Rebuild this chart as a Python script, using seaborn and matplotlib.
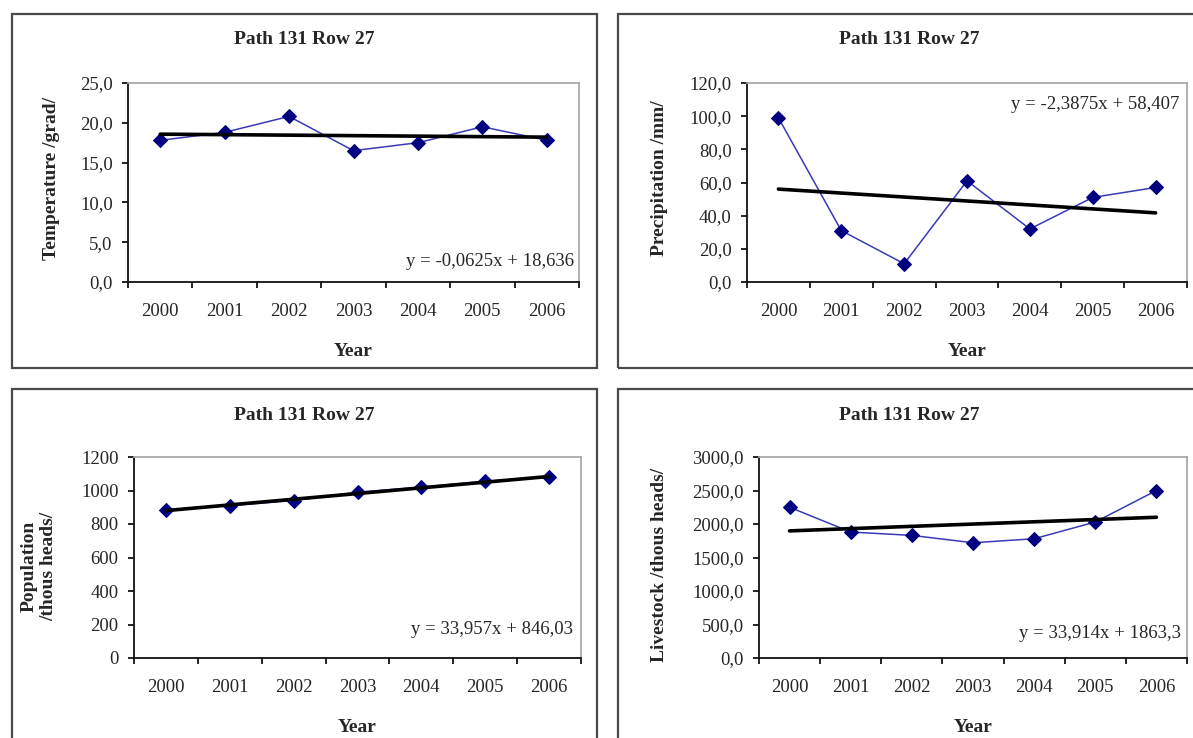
import matplotlib
matplotlib.use("Agg")
import matplotlib.pyplot as plt
from matplotlib.patches import Rectangle
from matplotlib.ticker import FuncFormatter, FixedLocator
import numpy as np
import pandas as pd
import seaborn as sns

# ---- data -------------------------------------------------------------
years = ["2000", "2001", "2002", "2003", "2004", "2005", "2006"]
title = "Path 131 Row 27"

temperature = [17.8, 18.8, 20.8, 16.5, 17.5, 19.5, 17.8]
precipitation = [99.0, 31.0, 11.0, 61.0, 32.0, 51.0, 57.0]
population = [885, 910, 940, 990, 1020, 1055, 1080]
livestock = [2250, 1880, 1830, 1720, 1780, 2030, 2500]

# linear trend coefficients (x = 1..7)
temp_trend = (-0.0625, 18.636)
prec_trend = (-2.3875, 58.407)
pop_trend = (33.957, 846.03)
live_trend = (33.914, 1863.3)

temp_eq = "y = -0,0625x + 18,636"
prec_eq = "y = -2,3875x + 58,407"
pop_eq = "y = 33,957x + 846,03"
live_eq = "y = 33,914x + 1863,3"

temp_ticks = [0, 5, 10, 15, 20, 25]
prec_ticks = [0, 20, 40, 60, 80, 100, 120]
pop_ticks = [0, 200, 400, 600, 800, 1000, 1200]
live_ticks = [0, 500, 1000, 1500, 2000, 2500, 3000]

# ---- style ------------------------------------------------------------
sns.set_theme(style="white")
plt.rcParams["font.family"] = ["Liberation Serif", "DejaVu Serif"]
plt.rcParams["axes.unicode_minus"] = False

W, H = 1193, 738
fig = plt.figure(figsize=(W / 100, H / 100), dpi=100)
fig.patch.set_facecolor("white")

LINE_C = "#3a3ab8"
MARK_C = "#000080"
FS = 14      # titles, axis labels
TFS = 13.5   # tick labels, equations


def fx(px):
    return px / W


def fy(py):
    return 1 - py / H


def comma1(v, _pos):
    return f"{v:.1f}".replace(".", ",")


def plain(v, _pos):
    return f"{int(round(v))}"


panels = [
    dict(vals=temperature, trend=temp_trend, eq=temp_eq, ticks=temp_ticks, fmt=comma1,
         ylabel="Temperature /grad/", box=(128, 83, 579, 282), eqpos=(0.989, 0.105),
         frame=(12, 14, 597, 368), ylpos=(52, 178)),
    dict(vals=precipitation, trend=prec_trend, eq=prec_eq, ticks=prec_ticks, fmt=comma1,
         ylabel="Precipitation /mm/", box=(747, 83, 1187, 282), eqpos=(0.982, 0.89),
         frame=(618, 14, 1205, 368), ylpos=(659, 178)),
    dict(vals=population, trend=pop_trend, eq=pop_eq, ticks=pop_ticks, fmt=plain,
         ylabel="Population\n/thous heads/", box=(134, 457, 581, 658), eqpos=(0.982, 0.144),
         frame=(12, 389, 597, 745), ylpos=(39, 566)),
    dict(vals=livestock, trend=live_trend, eq=live_eq, ticks=live_ticks, fmt=comma1,
         ylabel="Livestock /thous heads/", box=(759, 457, 1187, 658), eqpos=(0.986, 0.124),
         frame=(618, 389, 1205, 745), ylpos=(660, 565)),
]

pos = np.arange(len(years))

for p in panels:
    # panel frame and title
    fl, ft, fr, fb = p["frame"]
    fig.add_artist(Rectangle((fx(fl), fy(fb)), fx(fr) - fx(fl), fy(ft) - fy(fb),
                             transform=fig.transFigure, fill=False,
                             edgecolor="#4a4a4a", linewidth=1.6, clip_on=False))
    fig.text(fx((fl + min(fr, 1200)) / 2), fy(ft + 26), title,
             ha="center", va="center", fontsize=FS, fontweight="bold")

    l, t, r, b = p["box"]
    ax = fig.add_axes([fx(l), fy(b), fx(r) - fx(l), fy(t) - fy(b)])
    ax.set_facecolor("white")

    df = pd.DataFrame({"pos": pos, "value": p["vals"]})
    sns.lineplot(data=df, x="pos", y="value", ax=ax, color=LINE_C, linewidth=1.1,
                 marker="D", markersize=7, markerfacecolor=MARK_C,
                 markeredgecolor=MARK_C, zorder=2)

    slope, icpt = p["trend"]
    tdf = pd.DataFrame({"pos": pos, "trend": slope * (pos + 1) + icpt})
    sns.lineplot(data=tdf, x="pos", y="trend", ax=ax, color="black",
                 linewidth=2.6, zorder=3)

    ax.set_xlim(-0.5, len(years) - 0.5)
    ax.set_ylim(p["ticks"][0], p["ticks"][-1])
    ax.set_yticks(p["ticks"])
    ax.yaxis.set_major_formatter(FuncFormatter(p["fmt"]))
    ax.set_xticks(pos)
    ax.set_xticklabels(years)
    ax.xaxis.set_minor_locator(FixedLocator(np.arange(-0.5, len(years), 1.0)))

    ax.tick_params(axis="x", which="major", length=0, pad=15, labelsize=TFS)
    ax.tick_params(axis="x", which="minor", length=4, width=1.2, direction="out",
                   color="black", bottom=True)
    ax.tick_params(axis="y", which="major", length=4, width=1.2, direction="out",
                   color="black", left=True, pad=7, labelsize=TFS)

    for side in ("left", "bottom"):
        ax.spines[side].set_color("#111111")
        ax.spines[side].set_linewidth(1.3)
    for side in ("top", "right"):
        ax.spines[side].set_color("#a8a8a8")
        ax.spines[side].set_linewidth(1.3)
        ax.spines[side].set_visible(True)

    ax.set_xlabel("Year", fontsize=FS, fontweight="bold", va="center")
    ax.xaxis.set_label_coords(fx((l + r) / 2), fy(b + 69), transform=fig.transFigure)
    ax.set_ylabel(p["ylabel"], fontsize=FS, fontweight="bold", va="center",
                  linespacing=1.2)
    ax.yaxis.set_label_coords(fx(p["ylpos"][0]), fy(p["ylpos"][1]), transform=fig.transFigure)

    ex, ey = p["eqpos"]
    ax.text(ex, ey, p["eq"], transform=ax.transAxes, ha="right", va="center",
            fontsize=TFS, zorder=5)

fig.savefig("out.png", dpi=100, facecolor="white")
